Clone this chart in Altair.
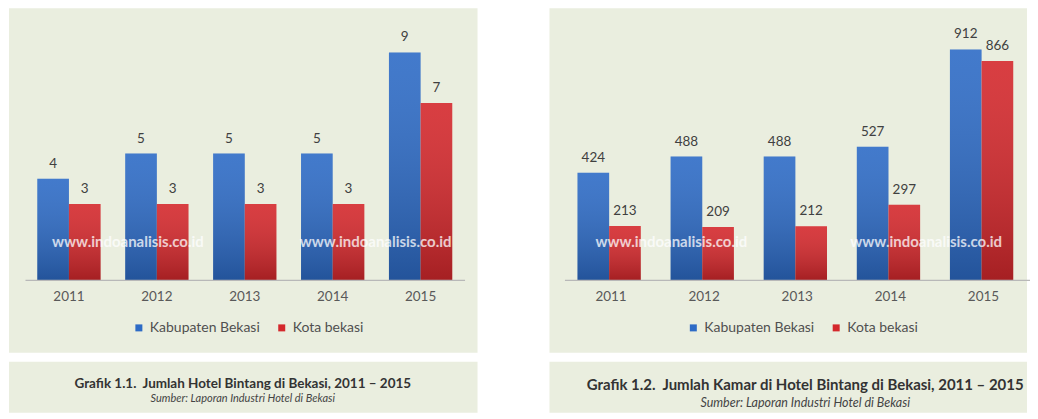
import altair as alt
import pandas as pd

years = ["2011", "2012", "2013", "2014", "2015"]
series = ["Kabupaten Bekasi", "Kota bekasi"]
hotel_kab = [4, 5, 5, 5, 9]
hotel_kota = [3, 3, 3, 3, 7]
kamar_kab = [424, 488, 488, 527, 912]
kamar_kota = [213, 209, 212, 297, 866]

FONT = "Lato"
BG = "#eaeedf"
BLUE = "#2d6bc6"
RED = "#d4282c"
WATERMARK = "www.indoanalisis.co.id"
SOURCE = "Sumber: Laporan Industri Hotel di Bekasi"


def make_df(a, b):
    rows = []
    for y, va, vb in zip(years, a, b):
        rows.append({"year": y, "series": series[0], "value": va})
        rows.append({"year": y, "series": series[1], "value": vb})
    return pd.DataFrame(rows)


def panel(df, ymax, width, box_x0, box_x1, legend_x, wm_xs, cap_x, title,
          title_size, sub_size, title_y, sub_y):
    one = pd.DataFrame({"k": [0]})
    x_enc = alt.X(
        "year:N", sort=years,
        scale=alt.Scale(paddingInner=0.28, paddingOuter=0.14),
        axis=alt.Axis(title=None, labelAngle=0, ticks=False, grid=False,
                      domainColor="#b8b8b8", domainWidth=1.2,
                      labelFont=FONT, labelFontSize=13.5, labelColor="#595959",
                      labelPadding=10, zindex=1),
    )
    xo = alt.XOffset("series:N", sort=series)
    y_enc = alt.Y("value:Q", scale=alt.Scale(domain=[0, ymax]), axis=None)

    bg = alt.Chart(one).mark_rect(color=BG).encode(
        x=alt.value(box_x0), x2=alt.value(box_x1),
        y=alt.value(-19), y2=alt.value(326))
    cap_bg = alt.Chart(one).mark_rect(color=BG).encode(
        x=alt.value(box_x0), x2=alt.value(box_x1),
        y=alt.value(335), y2=alt.value(386))

    bars = alt.Chart(df).mark_bar().encode(
        x=x_enc, xOffset=xo, y=y_enc,
        color=alt.Color(
            "series:N", sort=series,
            scale=alt.Scale(domain=series, range=[BLUE, RED]),
            legend=alt.Legend(title=None, orient="none", legendX=legend_x,
                              legendY=294, direction="horizontal",
                              symbolType="square", symbolSize=49,
                              symbolStrokeWidth=0,
                              labelFont=FONT, labelFontSize=14,
                              labelColor="#505050", columnPadding=14,
                              padding=0)),
    )
    shade = alt.Chart(df).mark_bar(
        color=alt.Gradient(
            gradient="linear",
            stops=[alt.GradientStop(color="rgba(255,255,255,0.10)", offset=0),
                   alt.GradientStop(color="rgba(0,0,0,0.22)", offset=1)],
            x1=0, x2=0, y1=0, y2=1)
    ).encode(x=x_enc, xOffset=xo, y=y_enc)

    labels = alt.Chart(df).mark_text(
        baseline="bottom", dy=-8, font=FONT, fontSize=13.5, color="#404040"
    ).encode(x=x_enc, xOffset=xo, y=y_enc, text="value:Q")

    wms = [
        alt.Chart(one).mark_text(
            text=WATERMARK, align="left", baseline="middle", font=FONT,
            fontSize=15, fontWeight="bold", color="white", opacity=0.75
        ).encode(x=alt.value(wx), y=alt.value(215))
        for wx in wm_xs
    ]

    cap_title = alt.Chart(one).mark_text(
        text=title, align="center", baseline="middle", font=FONT,
        fontSize=title_size, fontWeight="bold", color="#333333"
    ).encode(x=alt.value(cap_x), y=alt.value(title_y))
    cap_sub = alt.Chart(one).mark_text(
        text=SOURCE, align="center", baseline="middle", font=FONT,
        fontSize=sub_size, fontStyle="italic", color="#444444"
    ).encode(x=alt.value(cap_x), y=alt.value(sub_y))

    return alt.layer(bg, cap_bg, bars, shade, labels, *wms, cap_title,
                     cap_sub).properties(width=width, height=253)


left = panel(make_df(hotel_kab, hotel_kota), 10, 440, -16, 453, 107,
             [27, 275], 218,
             "Grafik 1.1.\u00a0 Jumlah Hotel Bintang di Bekasi, 2011 \u2013 2015",
             13.5, 11, 357, 372)
right = panel(make_df(kamar_kab, kamar_kota), 1000, 466, -15, 463, 122,
              [31, 286], 241,
              "Grafik 1.2.\u00a0 Jumlah Kamar di Hotel Bintang di Bekasi, 2011 \u2013 2015",
              15, 12.5, 358, 376)

chart = alt.hconcat(left, right, spacing=100, bounds="flush").resolve_scale(
    color="independent", x="independent", y="independent"
).resolve_legend(color="independent").properties(
    padding={"left": 1, "top": 0, "right": 0, "bottom": 0},
    background="white",
).configure_view(stroke=None)

chart.save("out.html", embed_options={"renderer": "svg", "actions": False})
